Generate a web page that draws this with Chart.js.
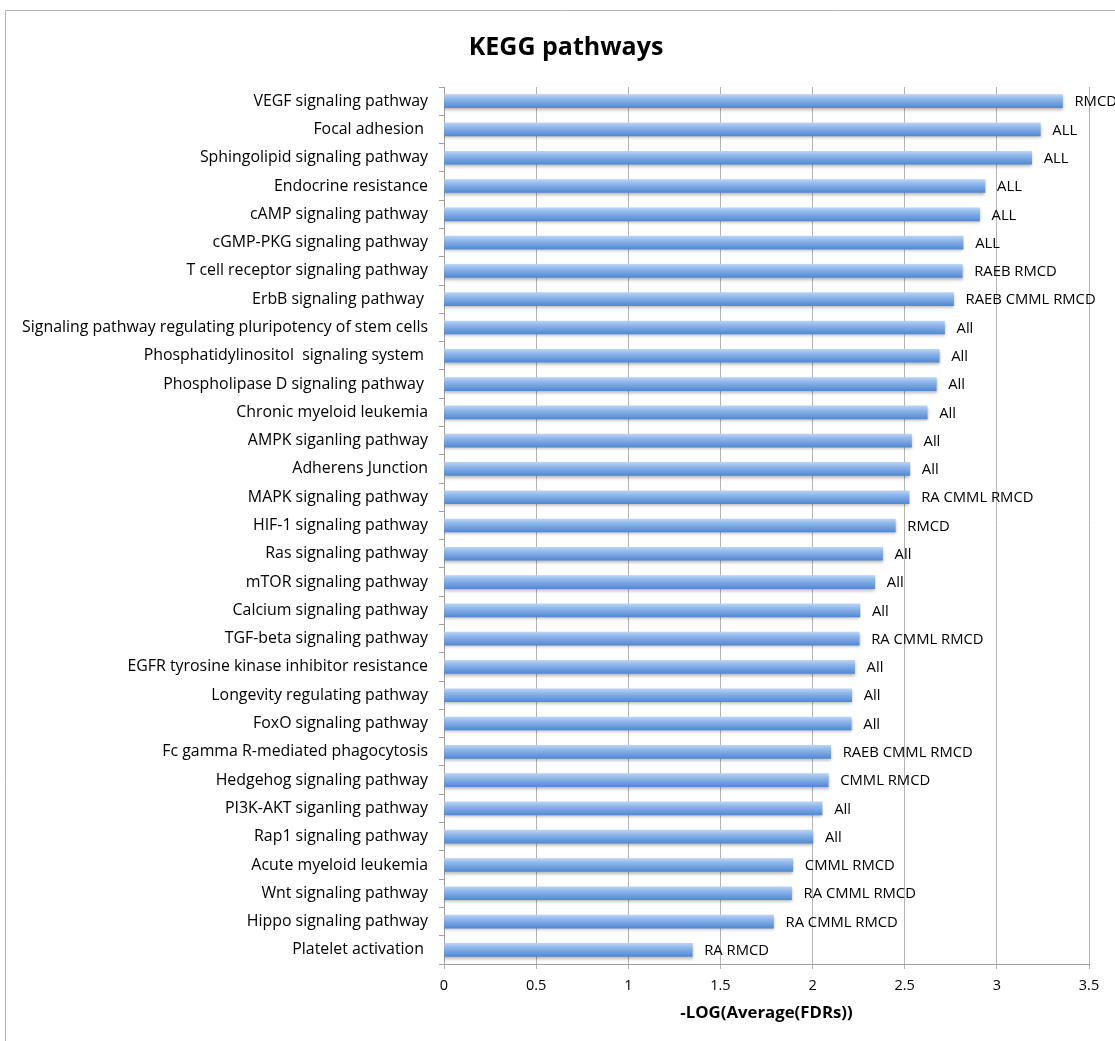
<!DOCTYPE html>
<html>
<head>
<meta charset="utf-8">
<script src="https://cdn.jsdelivr.net/npm/chart.js@4.4.0/dist/chart.umd.min.js"></script>
<style>
  html, body { margin: 0; padding: 0; background: #fff; }
  #wrap { width: 1115px; height: 1041px; position: relative; }
</style>
</head>
<body>
<div id="wrap"><canvas id="kegg"></canvas></div>
<script>
// pathway names (top to bottom), trailing spaces kept as in the original
const pathways = [
  'VEGF signaling pathway', 'Focal adhesion ', 'Sphingolipid signaling pathway',
  'Endocrine resistance', 'cAMP signaling pathway', 'cGMP-PKG signaling pathway',
  'T cell receptor signaling pathway', 'ErbB signaling pathway ',
  'Signaling pathway regulating pluripotency of stem cells',
  'Phosphatidylinositol  signaling system ', 'Phospholipase D signaling pathway ',
  'Chronic myeloid leukemia', 'AMPK siganling pathway', 'Adherens Junction',
  'MAPK signaling pathway', 'HIF-1 signaling pathway', 'Ras signaling pathway',
  'mTOR signaling pathway', 'Calcium signaling pathway', 'TGF-beta signaling pathway',
  'EGFR tyrosine kinase inhibitor resistance', 'Longevity regulating pathway',
  'FoxO signaling pathway', 'Fc gamma R-mediated phagocytosis', 'Hedgehog signaling pathway',
  'PI3K-AKT siganling pathway', 'Rap1 signaling pathway', 'Acute myeloid leukemia',
  'Wnt signaling pathway', 'Hippo signaling pathway', 'Platelet activation '
];

// -LOG(Average(FDRs))
const scores = [
  3.356, 3.236, 3.189, 2.936, 2.906, 2.817, 2.812, 2.765, 2.716, 2.687, 2.671,
  2.622, 2.537, 2.528, 2.524, 2.449, 2.380, 2.338, 2.257, 2.253, 2.228, 2.212,
  2.210, 2.098, 2.085, 2.052, 2.002, 1.893, 1.886, 1.788, 1.347
];

// MDS subtypes in which the pathway came up
const subtypes = [
  'RMCD', 'ALL', 'ALL', 'ALL', 'ALL', 'ALL', 'RAEB RMCD', 'RAEB CMML RMCD', 'All', 'All',
  'All', 'All', 'All', 'All', 'RA CMML RMCD', 'RMCD', 'All', 'All', 'All', 'RA CMML RMCD',
  'All', 'All', 'All', 'RAEB CMML RMCD', 'CMML RMCD', 'All', 'All', 'CMML RMCD',
  'RA CMML RMCD', 'RA CMML RMCD', 'RA RMCD'
];

const xTicks = [0, 0.5, 1, 1.5, 2, 2.5, 3, 3.5];
const chartTitle = 'KEGG pathways';

const FONT = '"Open Sans", "Liberation Sans", sans-serif';
const BAR_H = 13;

// vertical gradient per bar, built from the y scale position of the category
function barFill(ctx) {
  const chart = ctx.chart;
  const y = chart.scales && chart.scales.y;
  const c = y && ctx.dataIndex != null ? y.getPixelForValue(ctx.dataIndex) : NaN;
  if (!Number.isFinite(c)) return '#7aa7e4';
  const g = chart.ctx.createLinearGradient(0, c - BAR_H / 2, 0, c + BAR_H / 2);
  g.addColorStop(0, '#b9d3f4');
  g.addColorStop(0.35, '#8db5ea');
  g.addColorStop(1, '#5289d4');
  return g;
}

// outer frame + title (title sits a bit right of the canvas centre, like the original)
const frame = {
  id: 'frame',
  beforeDraw(chart) {
    const c = chart.ctx;
    c.save();
    c.strokeStyle = '#b4b4b4';
    c.lineWidth = 1;
    c.beginPath();
    c.moveTo(5.5, 1041);
    c.lineTo(5.5, 10.5);
    c.lineTo(1115, 10.5);
    c.stroke();
    c.font = 'bold 25px ' + FONT;
    c.fillStyle = '#000';
    c.textAlign = 'center';
    c.textBaseline = 'middle';
    c.fillText(chartTitle, 566, 48);
    c.restore();
  }
};

const barShadow = {
  id: 'barShadow',
  beforeDatasetsDraw(chart) {
    const c = chart.ctx;
    c.save();
    c.shadowColor = 'rgba(0,0,0,0.28)';
    c.shadowBlur = 3;
    c.shadowOffsetY = 2;
  },
  afterDatasetsDraw(chart) {
    chart.ctx.restore();
    const c = chart.ctx;
    const meta = chart.getDatasetMeta(0);
    c.save();
    c.font = '14.8px ' + FONT;
    c.fillStyle = '#000';
    c.textBaseline = 'middle';
    c.textAlign = 'left';
    meta.data.forEach((bar, i) => {
      c.fillText(subtypes[i], bar.x + 12, bar.y + 1);
    });
    c.restore();
  }
};

new Chart(document.getElementById('kegg'), {
  type: 'bar',
  data: {
    labels: pathways,
    datasets: [{
      data: scores,
      backgroundColor: barFill,
      borderWidth: 0,
      barThickness: BAR_H
    }]
  },
  options: {
    indexAxis: 'y',
    responsive: true,
    maintainAspectRatio: false,
    animation: false,
    layout: { padding: { left: 8, right: 26, top: 87, bottom: 0 } },
    plugins: {
      legend: { display: false },
      tooltip: { enabled: false },
      title: { display: false }
    },
    scales: {
      x: {
        min: 0,
        max: 3.5,
        afterBuildTicks(scale) { scale.ticks = xTicks.map(v => ({ value: v })); },
        afterFit(scale) { scale.height = 77; },
        grid: { color: '#b4b4b4', lineWidth: 1, tickLength: 5, drawTicks: true },
        border: { color: '#a0a0a0' },
        ticks: {
          color: '#000',
          font: { family: FONT, size: 14.5 },
          padding: 8,
          callback: v => String(v)
        },
        title: {
          display: true,
          text: '-LOG(Average(FDRs))',
          color: '#000',
          font: { family: FONT, size: 16.8, weight: 'bold' },
          padding: { top: 0, bottom: 18 }
        }
      },
      y: {
        afterFit(scale) { scale.width = 436; },
        grid: { drawOnChartArea: false, offset: true, tickLength: 5, color: '#a0a0a0' },
        border: { color: '#a0a0a0' },
        ticks: { color: '#000', font: { family: FONT, size: 15.9 }, padding: 11, autoSkip: false }
      }
    }
  },
  plugins: [frame, barShadow]
});
</script>
</body>
</html>
